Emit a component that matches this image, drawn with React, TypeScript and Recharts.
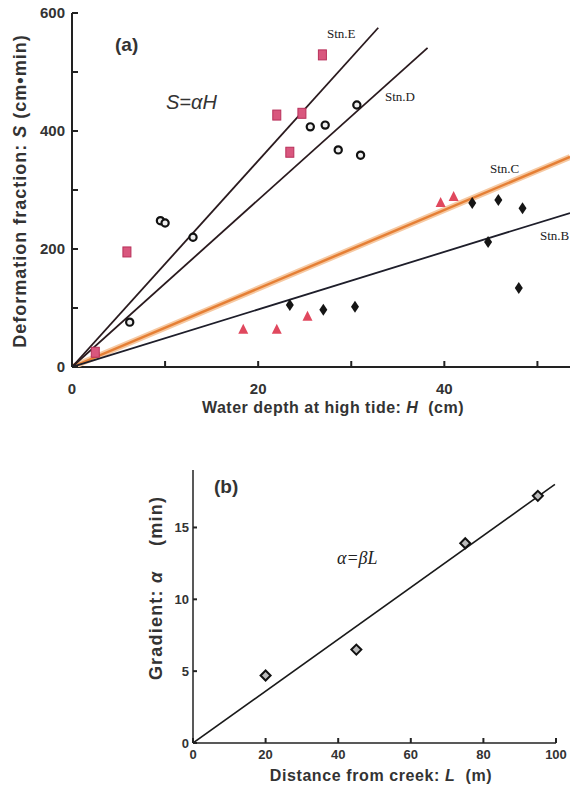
import React from "react";
import { ScatterChart, Scatter, XAxis, YAxis } from "recharts";

// (a) deformation fraction vs water depth, by station
const stnE = [
  { H: 2.5, S: 25 },
  { H: 5.9, S: 195 },
  { H: 22.0, S: 427 },
  { H: 24.7, S: 430 },
  { H: 23.4, S: 364 },
  { H: 26.9, S: 529 },
];
const stnD = [
  { H: 6.2, S: 76 },
  { H: 9.5, S: 248 },
  { H: 10.0, S: 244 },
  { H: 13.0, S: 220 },
  { H: 25.6, S: 407 },
  { H: 27.2, S: 410 },
  { H: 28.6, S: 368 },
  { H: 30.6, S: 444 },
  { H: 31.0, S: 359 },
];
const stnC = [
  { H: 18.4, S: 63 },
  { H: 22.0, S: 63 },
  { H: 25.3, S: 85 },
  { H: 39.6, S: 278 },
  { H: 41.0, S: 288 },
];
const stnB = [
  { H: 23.4, S: 105 },
  { H: 27.0, S: 97 },
  { H: 30.4, S: 102 },
  { H: 43.0, S: 278 },
  { H: 45.8, S: 283 },
  { H: 48.4, S: 269 },
  { H: 44.7, S: 212 },
  { H: 48.0, S: 134 },
];

// fitted lines S = aH, start and end
const lineE = [{ H: 0, S: 0 }, { H: 32.9, S: 575 }];
const lineD = [{ H: 0, S: 0 }, { H: 38.2, S: 541 }];
const lineC = [{ H: 0, S: 0 }, { H: 53.5, S: 356 }];
const lineB = [{ H: 0, S: 0 }, { H: 53.5, S: 261 }];

const aXTicks = [0, 10, 20, 30, 40, 50];
const aXLabels = [0, 20, 40];
const aYTicks = [0, 100, 200, 300, 400, 500, 600];
const aYLabels = [0, 200, 400, 600];

// (b) gradient vs distance from creek
const gradient = [
  { L: 20, a: 4.7 },
  { L: 45, a: 6.5 },
  { L: 75, a: 13.9 },
  { L: 95, a: 17.2 },
];
const lineBeta = [{ L: 0, a: 0 }, { L: 99.7, a: 18.0 }];

const bXTicks = [0, 20, 40, 60, 80, 100];
const bYTicks = [0, 5, 10, 15];

const INK = "#222";
const FONT = "'Liberation Sans', Arial, sans-serif";

const makeTick = (side: "left" | "bottom", labels: number[], len: number, size: number, gap: number) =>
  (props: any) => {
    const { x, y, payload } = props;
    const v = payload.value;
    const show = labels.includes(v);
    if (side === "left") {
      return (
        <g>
          <line x1={x} y1={y} x2={x + len} y2={y} stroke={INK} strokeWidth={2} />
          {show && (
            <text x={x - gap} y={y} dy={size * 0.36} textAnchor="end" fontSize={size} fontWeight="bold" fill="#333" fontFamily={FONT}>
              {v}
            </text>
          )}
        </g>
      );
    }
    return (
      <g>
        <line x1={x} y1={y} x2={x} y2={y - len} stroke={INK} strokeWidth={2} />
        {show && (
          <text x={x} y={y + gap} dy={size * 0.36} textAnchor="middle" fontSize={size} fontWeight="bold" fill="#333" fontFamily={FONT}>
            {v}
          </text>
        )}
      </g>
    );
  };

const none = () => <g />;

const square = (p: any) => (
  <rect x={p.cx - 4} y={p.cy - 5} width={8} height={10} fill="#d9577e" stroke="#b8305a" strokeWidth={1} />
);
const ring = (p: any) => <circle cx={p.cx} cy={p.cy} r={3.6} fill="#eee" stroke="#111" strokeWidth={2.2} />;
const triangle = (p: any) => (
  <path d={`M${p.cx},${p.cy - 6} L${p.cx + 5},${p.cy + 4} L${p.cx - 5},${p.cy + 4} Z`} fill="#e0485e" />
);
const diamond = (p: any) => (
  <path d={`M${p.cx},${p.cy - 6} L${p.cx + 4},${p.cy} L${p.cx},${p.cy + 6} L${p.cx - 4},${p.cy} Z`} fill="#151515" />
);
const hollowDiamond = (p: any) => (
  <path d={`M${p.cx},${p.cy - 5} L${p.cx + 5},${p.cy} L${p.cx},${p.cy + 5} L${p.cx - 5},${p.cy} Z`} fill="#bbb" stroke="#111" strokeWidth={2} />
);

const abs = (x: number, y: number, extra: React.CSSProperties = {}): React.CSSProperties => ({
  position: "absolute",
  left: x,
  top: y,
  whiteSpace: "nowrap",
  lineHeight: 1,
  ...extra,
});

const stnStyle: React.CSSProperties = { fontFamily: "'Liberation Serif', 'Times New Roman', serif", fontSize: 13, color: "#222" };
const titleStyle: React.CSSProperties = { fontFamily: FONT, fontWeight: "bold", color: "#333" };

export default function App() {
  return (
    <div style={{ position: "absolute", left: 0, top: 0, width: 575, height: 789, background: "#fff", overflow: "hidden" }}>
      <div style={abs(0, 0)}>
        <ScatterChart width={575} height={430} margin={{ top: 13, right: 5, left: 32, bottom: 33 }}>
          <XAxis
            type="number"
            dataKey="H"
            domain={[0, 53.5]}
            ticks={aXTicks}
            interval={0}
            allowDataOverflow
            tickSize={0}
            tickMargin={0}
            height={30}
            axisLine={{ stroke: INK, strokeWidth: 2 }}
            tick={makeTick("bottom", aXLabels, 6, 15, 22)}
          />
          <YAxis
            type="number"
            dataKey="S"
            domain={[0, 600]}
            ticks={aYTicks}
            interval={0}
            allowDataOverflow
            tickSize={0}
            tickMargin={0}
            width={40}
            axisLine={{ stroke: INK, strokeWidth: 2 }}
            tick={makeTick("left", aYLabels, 6, 15, 7)}
          />
          <Scatter data={lineC} line={{ stroke: "#f6c9a2", strokeWidth: 6 }} shape={none} isAnimationActive={false} />
          <Scatter data={lineC} line={{ stroke: "#e57f35", strokeWidth: 2.5 }} shape={none} isAnimationActive={false} />
          <Scatter data={lineE} line={{ stroke: "#2a1a1e", strokeWidth: 1.8 }} shape={none} isAnimationActive={false} />
          <Scatter data={lineD} line={{ stroke: "#2a1a1e", strokeWidth: 1.8 }} shape={none} isAnimationActive={false} />
          <Scatter data={lineB} line={{ stroke: "#1e1e2a", strokeWidth: 1.8 }} shape={none} isAnimationActive={false} />
          <Scatter data={stnE} shape={square} isAnimationActive={false} />
          <Scatter data={stnD} shape={ring} isAnimationActive={false} />
          <Scatter data={stnC} shape={triangle} isAnimationActive={false} />
          <Scatter data={stnB} shape={diamond} isAnimationActive={false} />
        </ScatterChart>
      </div>

      <div style={abs(115, 35, { ...titleStyle, fontSize: 19 })}>(a)</div>
      <div style={abs(166, 92, { fontFamily: FONT, fontStyle: "italic", fontSize: 20, color: "#333" })}>S=αH</div>
      <div style={abs(327, 27, stnStyle)}>Stn.E</div>
      <div style={abs(385, 90, stnStyle)}>Stn.D</div>
      <div style={abs(490, 162, stnStyle)}>Stn.C</div>
      <div style={abs(540, 229, stnStyle)}>Stn.B</div>
      <div style={abs(333, 408, { ...titleStyle, fontSize: 16, letterSpacing: 0.5, transform: "translate(-50%, -50%)" })}>
        Water depth at high tide: <i>H</i>&nbsp; (cm)
      </div>
      <div style={abs(20, 191, { ...titleStyle, fontSize: 18, letterSpacing: 1, transform: "translate(-50%, -50%) rotate(-90deg)" })}>
        Deformation fraction: <i>S</i> (cm•min)
      </div>

      <div style={abs(0, 430)}>
        <ScatterChart width={575} height={359} margin={{ top: 40, right: 19, left: 153, bottom: 26 }}>
          <XAxis
            type="number"
            dataKey="L"
            domain={[0, 100]}
            ticks={bXTicks}
            interval={0}
            allowDataOverflow
            tickSize={0}
            tickMargin={0}
            height={20}
            axisLine={{ stroke: INK, strokeWidth: 1.5 }}
            tick={makeTick("bottom", bXTicks, 5, 13, 11)}
          />
          <YAxis
            type="number"
            dataKey="a"
            domain={[0, 19]}
            ticks={bYTicks}
            interval={0}
            allowDataOverflow
            tickSize={0}
            tickMargin={0}
            width={40}
            axisLine={{ stroke: INK, strokeWidth: 1.5 }}
            tick={makeTick("left", bYTicks, 4, 13, 4)}
          />
          <Scatter data={lineBeta} line={{ stroke: "#1a1a1a", strokeWidth: 1.6 }} shape={none} isAnimationActive={false} />
          <Scatter data={gradient} shape={hollowDiamond} isAnimationActive={false} />
        </ScatterChart>
      </div>

      <div style={abs(214, 477, { ...titleStyle, fontSize: 19 })}>(b)</div>
      <div style={abs(337, 549, { fontFamily: "'Liberation Serif', serif", fontStyle: "italic", fontSize: 18, color: "#222" })}>α=βL</div>
      <div style={abs(381, 776, { ...titleStyle, fontSize: 16, letterSpacing: 0.6, transform: "translate(-50%, -50%)" })}>
        Distance from creek: <i>L</i>&nbsp; (m)
      </div>
      <div style={abs(156, 588, { ...titleStyle, fontSize: 18, letterSpacing: 1.2, transform: "translate(-50%, -50%) rotate(-90deg)" })}>
        Gradient: <i>α</i>&nbsp;&nbsp;&nbsp; (min)
      </div>
    </div>
  );
}
